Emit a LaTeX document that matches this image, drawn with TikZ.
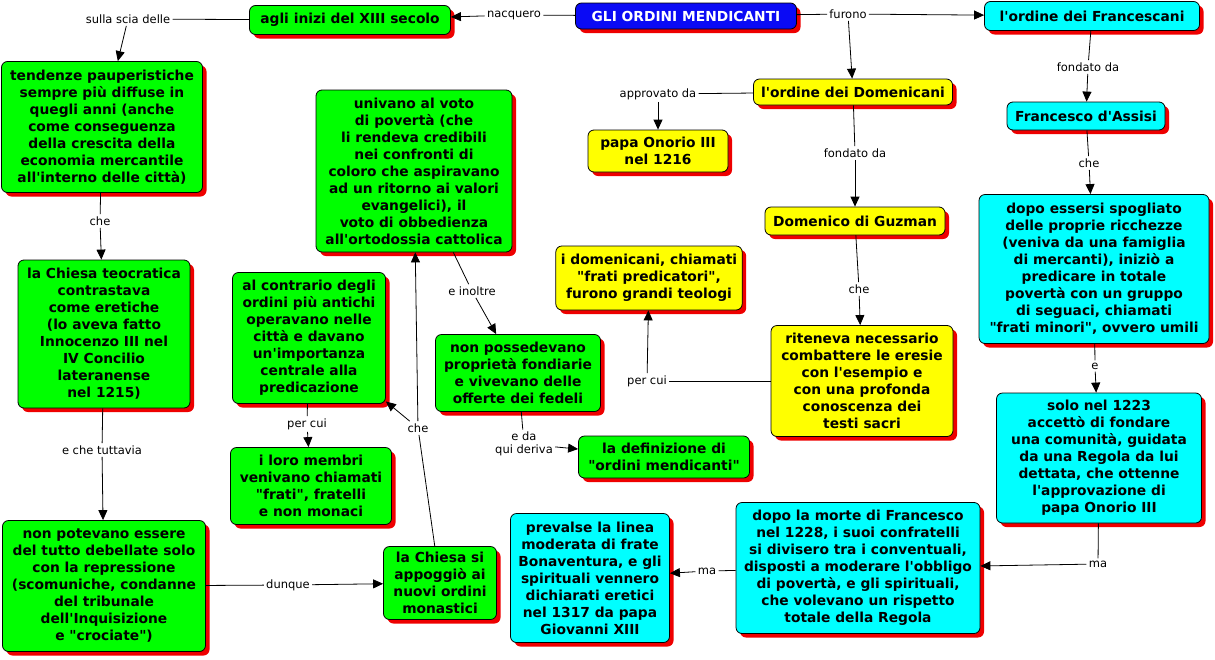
\documentclass[tikz,border=0pt]{standalone}
\usetikzlibrary{arrows.meta,shadows}

% fonts loaded without TeX mapping, so that ' and " stay straight
\font\boxfnt="DejaVu Sans/B" at 13.8pt
\font\linkfnt="DejaVu Sans" at 11.5pt
\newcommand{\boxfont}{\boxfnt\baselineskip=17pt}
\newcommand{\linkfont}{\linkfnt\baselineskip=13pt}

\definecolor{cgreen}{RGB}{0,255,0}
\definecolor{ccyan}{RGB}{0,255,255}
\definecolor{cyellow}{RGB}{255,255,0}
\definecolor{cblue}{RGB}{10,10,245}
\definecolor{cshadow}{RGB}{238,0,0}

\tikzset{
  concept/.style={draw=black, line width=0.8pt, rounded corners=6pt, align=center,
    font=\boxfont, inner xsep=5pt, inner ysep=4pt,
    drop shadow={shadow xshift=4pt, shadow yshift=-4pt, fill=cshadow, opacity=1}},
  greenbox/.style={concept, fill=cgreen},
  cyanbox/.style={concept, fill=ccyan},
  yellowbox/.style={concept, fill=cyellow},
  titlebox/.style={concept, fill=cblue, text=white},
  link/.style={font=\linkfont, align=center, inner sep=2pt},
}

\begin{document}
\begin{tikzpicture}[x=1pt, y=-1pt, >={Triangle[length=10pt,width=9pt]}, line width=0.8pt]
\useasboundingbox (0,0) rectangle (1215,659);

% concepts
\node[titlebox, minimum width=221, minimum height=26] (T) at (686,16) {GLI ORDINI MENDICANTI};
\node[greenbox, minimum width=201, minimum height=29] (agli) at (350,20) {agli inizi del XIII secolo};
\node[cyanbox, minimum width=215, minimum height=29] (franc) at (1092,16) {l'ordine dei Francescani};
\node[yellowbox, minimum width=199, minimum height=26] (domen) at (853,92) {l'ordine dei Domenicani};
\node[yellowbox, minimum width=140, minimum height=42] (papa) at (658,151) {papa Onorio III\\nel 1216};
\node[cyanbox, minimum width=158, minimum height=28] (assisi) at (1086,116) {Francesco d'Assisi};
\node[yellowbox, minimum width=180, minimum height=28] (guzman) at (855,221) {Domenico di Guzman};
\node[greenbox, minimum width=201, minimum height=131] (tend) at (102,127) {tendenze pauperistiche\\sempre più diffuse in\\quegli anni (anche\\come conseguenza\\della crescita della\\economia mercantile\\all'interno delle città)};
\node[greenbox, minimum width=196, minimum height=162] (univ) at (414,171) {univano al voto\\di povertà (che\\li rendeva credibili\\nei confronti di\\coloro che aspiravano\\ad un ritorno ai valori\\evangelici), il\\voto di obbedienza\\all'ortodossia cattolica};
\node[greenbox, minimum width=172, minimum height=148] (teocr) at (104,334) {la Chiesa teocratica\\contrastava\\come eretiche\\(lo aveva fatto\\Innocenzo III nel\\IV Concilio\\lateranense\\nel 1215)};
\node[greenbox, minimum width=153, minimum height=131] (contr) at (309,338) {al contrario degli\\ordini più antichi\\operavano nelle\\città e davano\\un'importanza\\centrale alla\\predicazione};
\node[greenbox, minimum width=165, minimum height=77] (possed) at (518,373) {non possedevano\\proprietà fondiarie\\e vivevano delle\\offerte dei fedeli};
\node[yellowbox, minimum width=182, minimum height=64] (predic) at (649,278) {i domenicani, chiamati\\"frati predicatori",\\furono grandi teologi};
\node[yellowbox, minimum width=182, minimum height=111] (riten) at (862,381) {riteneva necessario\\combattere le eresie\\con l'esempio e\\con una profonda\\conoscenza dei\\testi sacri};
\node[cyanbox, minimum width=230, minimum height=149] (spogl) at (1094,269) {dopo essersi spogliato\\delle proprie ricchezze\\(veniva da una famiglia\\di mercanti), iniziò a\\predicare in totale\\povertà con un gruppo\\di seguaci, chiamati\\"frati minori", ovvero umili};
\node[cyanbox, minimum width=205, minimum height=130] (solo) at (1099,458) {solo nel 1223\\accettò di fondare\\una comunità, guidata\\da una Regola da lui\\dettata, che ottenne\\l'approvazione di\\papa Onorio III};
\node[greenbox, minimum width=161, minimum height=77] (membri) at (311,486) {i loro membri\\venivano chiamati\\"frati", fratelli\\e non monaci};
\node[greenbox, minimum width=171, minimum height=42] (defin) at (664,457) {la definizione di\\"ordini mendicanti"};
\node[greenbox, minimum width=203, minimum height=131] (repress) at (104,586) {non potevano essere\\del tutto debellate solo\\con la repressione\\(scomuniche, condanne\\del tribunale\\dell'Inquisizione\\e "crociate")};
\node[greenbox, minimum width=113, minimum height=73] (appog) at (440,583) {la Chiesa si\\appoggiò ai\\nuovi ordini\\monastici};
\node[cyanbox, minimum width=159, minimum height=129] (prev) at (590,578) {prevalse la linea\\moderata di frate\\Bonaventura, e gli\\spirituali vennero\\dichiarati eretici\\nel 1317 da papa\\Giovanni XIII};
\node[cyanbox, minimum width=244, minimum height=131] (morte) at (858,568) {dopo la morte di Francesco\\nel 1228, i suoi confratelli\\si divisero tra i conventuali,\\disposti a moderare l'obbligo\\di povertà, e gli spirituali,\\che volevano un rispetto\\totale della Regola};

% linking phrases
\node[link] (nacq) at (514,15) {nacquero};
\node[link] (furono) at (848,14) {furono};
\node[link] (scia) at (128,19) {sulla scia delle};
\node[link] (fond1) at (1088,67) {fondato da};
\node[link] (appr) at (658,94) {approvato da};
\node[link] (fond2) at (855,153) {fondato da};
\node[link] (che1) at (1089,163) {che};
\node[link] (che2) at (859,289) {che};
\node[link] (che3) at (100,221) {che};
\node[link] (tutt) at (102,450) {e che tuttavia};
\node[link] (dunque) at (288,585) {dunque};
\node[link] (che4) at (418,428) {che};
\node[link] (inoltre) at (472,291) {e inoltre};
\node[link] (percui1) at (307,424) {per cui};
\node[link] (deriva) at (524,444) {e da\\qui deriva};
\node[link] (percui2) at (647,381) {per cui};
\node[link] (e) at (1095,366) {e};
\node[link] (ma1) at (1098,564) {ma};
\node[link] (ma2) at (707,571) {ma};

% connectors
\draw (T) -- (nacq);
\draw[->] (nacq) -- (agli);
\draw (T) -- (furono);
\draw[->] (furono) -- (franc);
\draw[->] (furono) -- (domen);
\draw (agli) -- (scia);
\draw[->] (scia) -- (tend);
\draw (franc) -- (fond1);
\draw[->] (fond1) -- (assisi);
\draw (domen) -- (appr);
\draw[->] (appr) -- (papa);
\draw (domen) -- (fond2);
\draw[->] (fond2) -- (guzman);
\draw (assisi) -- (che1);
\draw[->] (che1) -- (spogl);
\draw (guzman) -- (che2);
\draw[->] (che2) -- (riten);
\draw (tend) -- (che3);
\draw[->] (che3) -- (teocr);
\draw (teocr) -- (tutt);
\draw[->] (tutt) -- (repress);
\draw (repress) -- (dunque);
\draw[->] (dunque) -- (appog);
\draw (appog) -- (che4);
\draw[->] (che4) -- (univ);
\draw[->] (che4) -- (contr);
\draw (univ) -- (inoltre);
\draw[->] (inoltre) -- (possed);
\draw (contr) -- (percui1);
\draw[->] (percui1) -- (membri);
\draw (possed) -- (deriva);
\draw[->] (deriva) -- (defin);
\draw (riten) -- (percui2);
\draw[->] (percui2) -- (predic);
\draw (spogl) -- (e);
\draw[->] (e) -- (solo);
\draw (solo) -- (ma1);
\draw[->] (ma1) -- (morte);
\draw (morte) -- (ma2);
\draw[->] (ma2) -- (prev);
\end{tikzpicture}
\end{document}
